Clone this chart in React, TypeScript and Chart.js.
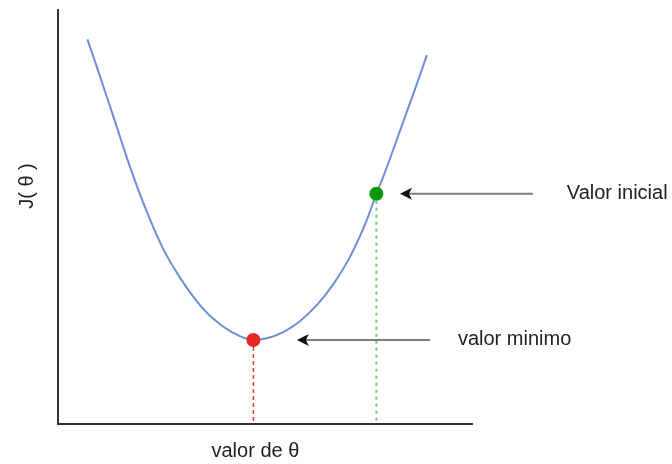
import React, { useEffect, useRef } from "react";
import { Chart, registerables } from "chart.js";

Chart.register(...registerables);

// Curve J(θ) (x: θ, y: J)
const thetaValues = [0.71, 0.93, 1.34, 1.74, 2.14, 2.54, 2.95, 3.35, 3.75, 4.15, 4.72, 5.04, 5.44, 5.85, 6.25, 6.65, 7.05, 7.46, 7.69, 7.86, 8.26, 8.66, 8.91];
const costValues = [9.29, 8.65, 7.42, 6.21, 5.14, 4.23, 3.53, 2.97, 2.54, 2.25, 2.03, 2.07, 2.22, 2.49, 2.87, 3.38, 4.03, 4.93, 5.56, 5.98, 7.08, 8.19, 8.91];

const minPoint = { x: 4.72, y: 2.03 };
const initPoint = { x: 7.69, y: 5.56 };

// Annotation arrows: [tipX, tailX, y]
const arrowTipX = [8.26, 5.77];
const arrowTailX = [11.47, 8.99];
const arrowY = [5.56, 2.03];
const arrowLabels = ["Valor inicial", "valor minimo"];
const labelX = [12.29, 9.66];

const xTitle = "valor de θ";
const yTitle = "J( θ )";

const FONT = '"Liberation Sans", Arial, sans-serif';

const annotPlugin = {
  id: "annot",
  afterDraw(chart: any) {
    const ctx = chart.ctx;
    const xs = chart.scales.x;
    const ys = chart.scales.y;
    ctx.save();
    for (let i = 0; i < arrowTipX.length; i++) {
      const tip = xs.getPixelForValue(arrowTipX[i]);
      const tail = xs.getPixelForValue(arrowTailX[i]);
      const y = ys.getPixelForValue(arrowY[i]);
      ctx.strokeStyle = "#808080";
      ctx.lineWidth = 2;
      ctx.beginPath();
      ctx.moveTo(tail, y);
      ctx.lineTo(tip + 9, y);
      ctx.stroke();
      ctx.fillStyle = "#111";
      ctx.beginPath();
      ctx.moveTo(tip, y);
      ctx.lineTo(tip + 12, y - 6);
      ctx.lineTo(tip + 9, y);
      ctx.lineTo(tip + 12, y + 6);
      ctx.closePath();
      ctx.fill();
      ctx.font = `20px ${FONT}`;
      ctx.textBaseline = "middle";
      ctx.textAlign = "left";
      ctx.fillStyle = "#222";
      ctx.fillText(arrowLabels[i], xs.getPixelForValue(labelX[i]), y);
    }
    ctx.font = `20px ${FONT}`;
    ctx.fillStyle = "#222";
    ctx.textAlign = "center";
    ctx.textBaseline = "middle";
    ctx.fillText(xTitle, xs.getPixelForValue(minPoint.x) + 2, 451);
    ctx.translate(27, 186);
    ctx.rotate(-Math.PI / 2);
    ctx.fillText(yTitle, 0, 0);
    ctx.restore();
  },
};

export default function App() {
  const ref = useRef<HTMLCanvasElement>(null);
  useEffect(() => {
    const curve = thetaValues.map((x, i) => ({ x, y: costValues[i] }));
    const chart = new Chart(ref.current!, {
      type: "scatter",
      data: {
        datasets: [
          {
            data: [minPoint],
            pointRadius: 7,
            pointBackgroundColor: "#e8291f",
            pointBorderColor: "#e8291f",
            pointBorderWidth: 0,
            showLine: false,
          },
          {
            data: [initPoint],
            pointRadius: 7,
            pointBackgroundColor: "#0a990a",
            pointBorderColor: "#0a990a",
            pointBorderWidth: 0,
            showLine: false,
          },
          {
            data: curve,
            showLine: true,
            borderColor: "#6b8fd8",
            borderWidth: 2,
            pointRadius: 0,
            cubicInterpolationMode: "monotone",
          },
          {
            data: [minPoint, { x: minPoint.x, y: 0 }],
            showLine: true,
            borderColor: "#ee3a30",
            borderWidth: 1.5,
            borderDash: [4, 3],
            pointRadius: 0,
          },
          {
            data: [initPoint, { x: initPoint.x, y: 0 }],
            showLine: true,
            borderColor: "#6fcf6f",
            borderWidth: 2,
            borderDash: [3, 4],
            pointRadius: 0,
          },
        ],
      },
      options: {
        responsive: false,
        animation: false,
        devicePixelRatio: 1,
        layout: { padding: { left: 58, top: 10, right: 200, bottom: 40 } },
        plugins: { legend: { display: false }, tooltip: { enabled: false } },
        scales: {
          x: {
            type: "linear",
            min: 0,
            max: 10,
            grid: { display: false, drawTicks: false },
            ticks: { display: false },
            border: { display: true, color: "#333", width: 2 },
          },
          y: {
            type: "linear",
            min: 0,
            max: 10,
            grid: { display: false, drawTicks: false },
            ticks: { display: false },
            border: { display: true, color: "#333", width: 2 },
          },
        },
      },
      plugins: [annotPlugin],
    });
    return () => chart.destroy();
  }, []);
  return (
    <div style={{ position: "absolute", left: 0, top: 0, width: 672, height: 464, background: "#fff" }}>
      <canvas ref={ref} width={672} height={464} />
    </div>
  );
}
